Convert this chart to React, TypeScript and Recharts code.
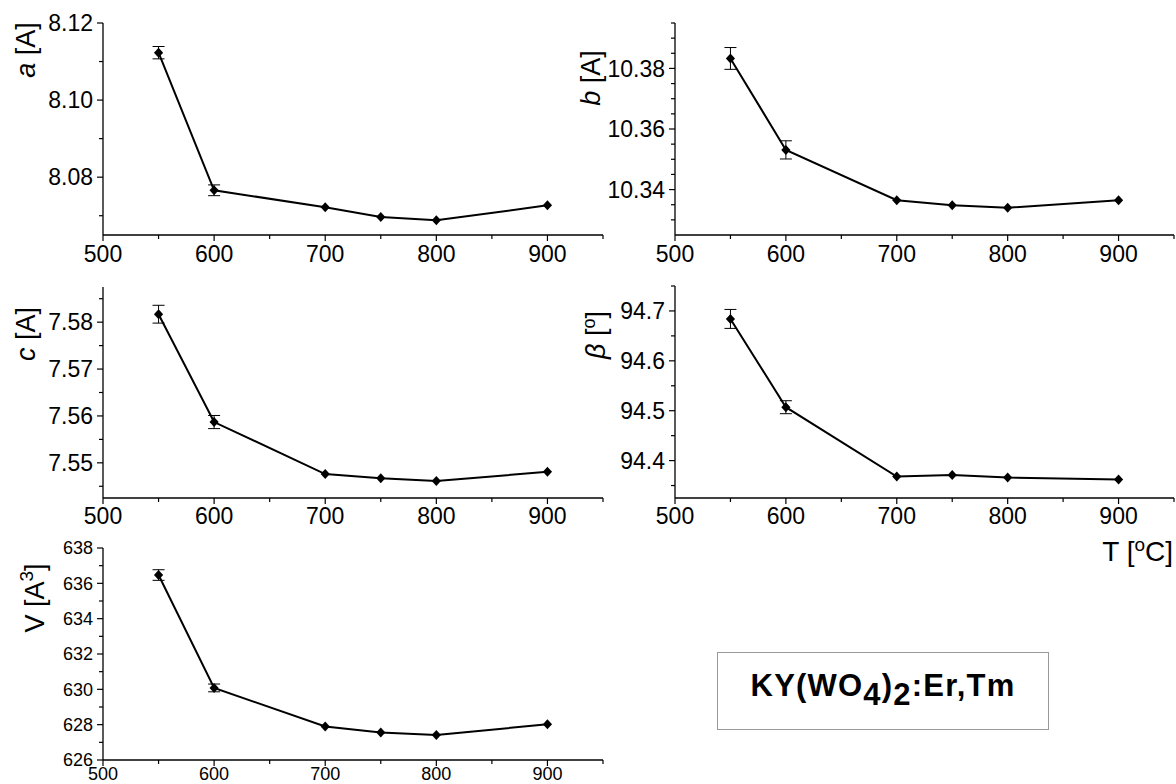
import React from "react";
import { LineChart, Line, XAxis, YAxis, ErrorBar } from "recharts";

// annealing temperature, °C
const temperatures = [550, 600, 700, 750, 800, 900];

// lattice parameters
const aValues = [8.1123, 8.0766, 8.0722, 8.0697, 8.0688, 8.0727];
const aErrors = [0.0016, 0.0014, 0, 0, 0, 0];
const bValues = [10.3833, 10.3531, 10.3365, 10.3348, 10.334, 10.3365];
const bErrors = [0.0036, 0.003, 0, 0, 0, 0];
const cValues = [7.5817, 7.5587, 7.5476, 7.5467, 7.5461, 7.5481];
const cErrors = [0.0019, 0.0014, 0, 0, 0, 0];
const betaValues = [94.684, 94.507, 94.368, 94.371, 94.366, 94.362];
const betaErrors = [0.019, 0.013, 0, 0, 0, 0];
const vValues = [636.47, 630.08, 627.9, 627.55, 627.42, 628.02];
const vErrors = [0.3, 0.22, 0, 0, 0, 0];

// ticks (all) and labelled ticks
const tTicks = [500, 550, 600, 650, 700, 750, 800, 850, 900, 950];
const tLabels = [500, 600, 700, 800, 900];
const aTicks = [8.07, 8.08, 8.09, 8.1, 8.11, 8.12];
const aLabels = [8.08, 8.1, 8.12];
const bTicks = [10.33, 10.335, 10.34, 10.345, 10.35, 10.355, 10.36, 10.365, 10.37, 10.375, 10.38, 10.385, 10.39, 10.395];
const bLabels = [10.34, 10.36, 10.38];
const cTicks = [7.545, 7.55, 7.555, 7.56, 7.565, 7.57, 7.575, 7.58, 7.585];
const cLabels = [7.55, 7.56, 7.57, 7.58];
const betaTicks = [94.35, 94.4, 94.45, 94.5, 94.55, 94.6, 94.65, 94.7, 94.75];
const betaLabels = [94.4, 94.5, 94.6, 94.7];
const vTicks = [626, 627, 628, 629, 630, 631, 632, 633, 634, 635, 636, 637, 638];
const vLabels = [626, 628, 630, 632, 634, 636, 638];

const FONT = '"Liberation Sans", Arial, sans-serif';

const isIn = (list: number[], v: number) => list.some((l) => Math.abs(l - v) < 1e-9);

function makeXTick(labels: number[], fontSize: number, gap: number) {
    return (props: any) => {
        const { x, y, payload } = props;
        const major = isIn(labels, payload.value);
        return (
            <g>
                <line x1={x} y1={y} x2={x} y2={y + (major ? 6 : 4)} stroke="#000" strokeWidth={1.2} />
                {major && (
                    <text x={x} y={y + gap} dy="0.71em" textAnchor="middle" fontSize={fontSize} fill="#000" fontFamily={FONT}>
                        {payload.value}
                    </text>
                )}
            </g>
        );
    };
}

function makeYTick(labels: number[], digits: number, fontSize: number) {
    return (props: any) => {
        const { x, y, payload } = props;
        const major = isIn(labels, payload.value);
        return (
            <g>
                <line x1={x} y1={y} x2={x - (major ? 6 : 4)} y2={y} stroke="#000" strokeWidth={1.2} />
                {major && (
                    <text x={x - 10} y={y} dy="0.36em" textAnchor="end" fontSize={fontSize} fill="#000" fontFamily={FONT}>
                        {payload.value.toFixed(digits)}
                    </text>
                )}
            </g>
        );
    };
}

const diamond = (props: any) => {
    const { cx, cy, index } = props;
    return <path key={`d-${index}`} d={`M${cx},${cy - 5}L${cx + 4.6},${cy}L${cx},${cy + 5}L${cx - 4.6},${cy}Z`} fill="#000" />;
};

// rotated axis title, positioned in the chart's own svg coordinates
const Title = ({ px, py, children, size = 27 }: any) => (
    <text x={px} y={py} transform={`rotate(-90 ${px} ${py})`} textAnchor="middle" dy="0.35em" fontSize={size} fill="#000" fontFamily={FONT}>
        {children}
    </text>
);

const PlainText = ({ px, py, children, size = 28 }: any) => (
    <text x={px} y={py} textAnchor="end" fontSize={size} fill="#000" fontFamily={FONT}>
        {children}
    </text>
);

interface PanelProps {
    values: number[];
    errors: number[];
    domain: [number, number];
    ticks: number[];
    labels: number[];
    digits: number;
    left: number;
    top: number;
    width: number;
    height: number;
    marginTop: number;
    marginRight: number;
    yWidth: number;
    xHeight: number;
    fontSize: number;
    xGap: number;
    title: React.ReactElement;
    xTitle?: React.ReactElement;
}

function Panel(p: PanelProps) {
    const data = temperatures.map((t, i) => ({ t, v: p.values[i], err: p.errors[i] }));
    return (
        <div style={{ position: "absolute", left: p.left, top: p.top }}>
            <LineChart width={p.width} height={p.height} data={data} margin={{ top: p.marginTop, right: p.marginRight, bottom: 0, left: 0 }}>
                <XAxis
                    type="number"
                    dataKey="t"
                    domain={[500, 950]}
                    ticks={tTicks}
                    interval={0}
                    tickSize={0}
                    tickMargin={0}
                    tickLine={false}
                    tick={makeXTick(tLabels, p.fontSize, p.xGap)}
                    axisLine={{ stroke: "#000", strokeWidth: 1.3 }}
                    height={p.xHeight}
                    allowDataOverflow
                    label={p.xTitle}
                />
                <YAxis
                    type="number"
                    domain={p.domain}
                    ticks={p.ticks}
                    interval={0}
                    tickSize={0}
                    tickMargin={0}
                    tickLine={false}
                    tick={makeYTick(p.labels, p.digits, p.fontSize)}
                    axisLine={{ stroke: "#000", strokeWidth: 1.3 }}
                    width={p.yWidth}
                    allowDataOverflow
                    label={p.title}
                />
                <Line type="linear" dataKey="v" stroke="#000" strokeWidth={2} dot={diamond} activeDot={false} isAnimationActive={false}>
                    <ErrorBar dataKey="err" direction="y" width={6} stroke="#000" strokeWidth={1} />
                </Line>
            </LineChart>
        </div>
    );
}

export default function App() {
    return (
        <div style={{ position: "absolute", left: 0, top: 0, width: 1176, height: 784, background: "#fff", fontFamily: FONT }}>
            <Panel
                values={aValues} errors={aErrors} domain={[8.065, 8.12]} ticks={aTicks} labels={aLabels} digits={2}
                left={0} top={0} width={620} height={270} marginTop={23} marginRight={17} yWidth={103} xHeight={35}
                fontSize={23} xGap={11}
                title={<Title px={26} py={50}><tspan fontStyle="italic">a</tspan> [A]</Title>}
            />
            <Panel
                values={bValues} errors={bErrors} domain={[10.325, 10.395]} ticks={bTicks} labels={bLabels} digits={2}
                left={575} top={0} width={601} height={270} marginTop={23} marginRight={2} yWidth={100} xHeight={35}
                fontSize={23} xGap={11}
                title={<Title px={16} py={78}><tspan fontStyle="italic">b</tspan> [A]</Title>}
            />
            <Panel
                values={cValues} errors={cErrors} domain={[7.5425, 7.5875]} ticks={cTicks} labels={cLabels} digits={2}
                left={0} top={270} width={620} height={260} marginTop={17} marginRight={17} yWidth={103} xHeight={32}
                fontSize={23} xGap={10}
                title={<Title px={26} py={64}><tspan fontStyle="italic">c</tspan> [A]</Title>}
            />
            <Panel
                values={betaValues} errors={betaErrors} domain={[94.325, 94.75]} ticks={betaTicks} labels={betaLabels} digits={1}
                left={575} top={270} width={601} height={305} marginTop={16} marginRight={2} yWidth={100} xHeight={77}
                fontSize={23} xGap={10}
                title={<Title px={21} py={65}><tspan fontStyle="italic">β</tspan> [<tspan dy={-10} fontSize={18}>o</tspan><tspan dy={10}>]</tspan></Title>}
                xTitle={<PlainText px={598} py={291}>T [<tspan dy={-10} fontSize={19}>o</tspan><tspan dy={10}>C]</tspan></PlainText>}
            />
            <Panel
                values={vValues} errors={vErrors} domain={[626, 638]} ticks={vTicks} labels={vLabels} digits={0}
                left={0} top={530} width={620} height={254} marginTop={18} marginRight={17} yWidth={103} xHeight={24}
                fontSize={18} xGap={7}
                title={<Title px={35} py={68}>V [A<tspan dy={-11} fontSize={19}>3</tspan><tspan dy={11}>]</tspan></Title>}
            />
            <div
                style={{
                    position: "absolute",
                    left: 717,
                    top: 652,
                    width: 330,
                    height: 76,
                    border: "1px solid #999",
                    display: "flex",
                    alignItems: "center",
                    justifyContent: "center",
                    fontWeight: "bold",
                    fontSize: 31,
                    letterSpacing: 1.2,
                    color: "#000",
                }}
            >
                <span>
                    KY(WO<sub style={{ fontSize: 31, verticalAlign: "-0.3em" }}>4</sub>)<sub style={{ fontSize: 31, verticalAlign: "-0.3em" }}>2</sub>:Er,Tm
                </span>
            </div>
        </div>
    );
}
